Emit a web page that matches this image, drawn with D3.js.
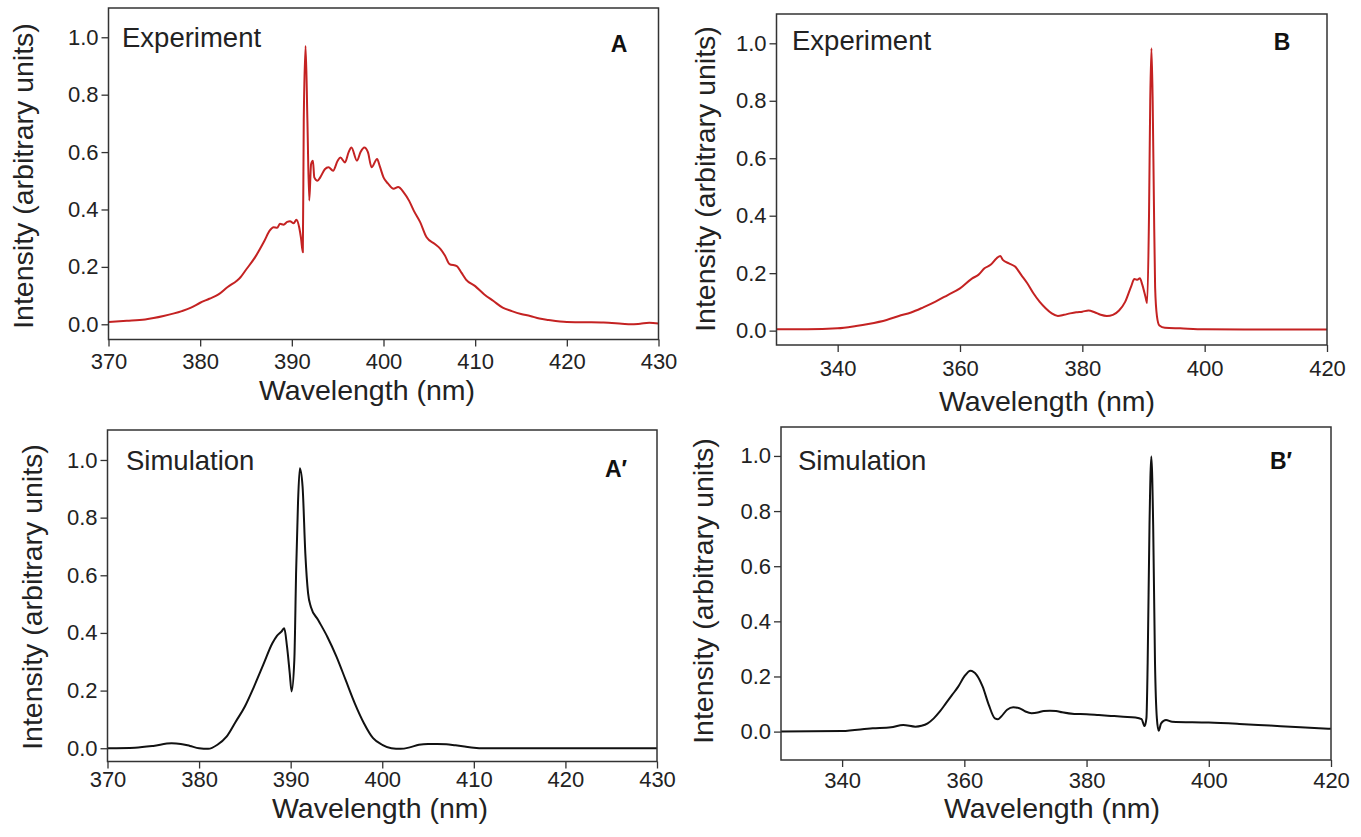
<!DOCTYPE html>
<html>
<head>
<meta charset="utf-8">
<script src="https://cdn.jsdelivr.net/npm/d3@7"></script>
<style>
  body { margin: 0; background: #fff; }
  svg { display: block; font-family: "Liberation Sans", Arial, Helvetica, sans-serif; }
  .axis path { display: none; }
  .axis line { stroke: #333; stroke-width: 1.3; }
  .axis text { font-size: 22px; fill: #222; }
</style>
</head>
<body>
<svg id="chart" width="1361" height="837"></svg>
<script>
// Spectra: [wavelength (nm), intensity]
const expA = [
  [370,0.008],[372,0.012],[374,0.017],[376,0.029],[378,0.046],[379,0.058],[380,0.075],[381,0.089],
  [382,0.104],[383,0.13],[384,0.152],[384.4,0.164],[385,0.19],[386,0.234],[387,0.29],[387.6,0.327],
  [388,0.338],[388.4,0.336],[388.7,0.35],[389.1,0.347],[389.5,0.357],[389.8,0.359],[390.2,0.352],
  [390.5,0.364],[390.8,0.338],[391.0,0.3],[391.2,0.251],[391.3,0.709],[391.5,0.97],[391.7,0.709],
  [391.9,0.431],[392.1,0.558],[392.3,0.57],[392.45,0.512],[392.8,0.5],[393.1,0.512],[393.6,0.54],
  [394.0,0.547],[394.5,0.535],[395.0,0.57],[395.3,0.581],[395.8,0.564],[396.2,0.6],[396.5,0.616],
  [397.1,0.57],[397.5,0.6],[397.9,0.616],[398.3,0.6],[398.7,0.547],[399.3,0.576],[399.6,0.55],
  [400.0,0.512],[400.5,0.49],[401.1,0.472],[401.6,0.478],[402.2,0.46],[402.8,0.43],[403.3,0.396],
  [404.0,0.356],[404.7,0.303],[405.6,0.28],[406.2,0.263],[406.7,0.24],[407.2,0.21],[408,0.203],
  [408.5,0.18],[409,0.156],[410,0.133],[411,0.104],[412,0.081],[413,0.058],[414,0.046],[415,0.036],
  [416,0.029],[417,0.02],[418,0.015],[420,0.008],[422,0.007],[424,0.006],[426,0.002],[427,0.0],
  [428,0.002],[429,0.005],[430,0.003]
];

const expB = [
  [330,0.005],[335,0.005],[340,0.008],[343,0.016],[345,0.023],[348,0.037],[350,0.051],[352,0.063],
  [354,0.081],[356,0.101],[358,0.124],[360,0.147],[362,0.182],[363,0.194],[364,0.217],[365,0.229],
  [366,0.252],[366.6,0.26],[367,0.246],[368,0.234],[369,0.223],[370,0.194],[371,0.165],[372,0.13],
  [373,0.101],[374,0.078],[375,0.06],[376,0.051],[377,0.055],[378,0.06],[379,0.064],[380,0.066],
  [381,0.07],[382,0.064],[383,0.055],[384,0.051],[385,0.055],[386,0.07],[387,0.1],[388,0.155],
  [388.5,0.18],[389.0,0.177],[389.4,0.182],[389.8,0.16],[390.3,0.12],[390.6,0.096],[390.9,0.4],
  [391.1,0.8],[391.3,0.983],[391.5,0.8],[391.7,0.45],[391.9,0.15],[392.2,0.05],[392.6,0.018],
  [393.5,0.01],[396,0.008],[400,0.005],[410,0.004],[420,0.004]
];

const simA = [
  [370,0.0],[373,0.002],[375,0.008],[377,0.017],[378,0.015],[379,0.008],[380,0.0],[381,-0.002],
  [382,0.012],[383,0.04],[384,0.092],[385,0.145],[386,0.214],[387,0.289],[388,0.364],[388.5,0.39],
  [389,0.405],[389.3,0.416],[389.6,0.353],[389.9,0.26],[390.1,0.197],[390.4,0.306],[390.6,0.618],
  [390.8,0.85],[391,0.971],[391.3,0.908],[391.6,0.676],[391.9,0.538],[392.2,0.491],[393,0.445],
  [394,0.387],[395,0.318],[396,0.237],[397,0.156],[398,0.087],[399,0.035],[400,0.012],[401,0.0],
  [402,-0.002],[403,0.003],[404,0.012],[405,0.015],[406,0.015],[407,0.014],[408,0.01],[409,0.006],
  [410,0.002],[411,0.0],[420,0.0],[430,0.0]
];

const simB = [
  [330,0.0],[340,0.002],[345,0.012],[348,0.016],[350,0.024],[352,0.018],[353,0.021],[354,0.03],
  [355,0.048],[356,0.073],[357,0.103],[358,0.133],[359,0.163],[360,0.2],[361,0.221],[362,0.206],
  [363,0.163],[364,0.097],[365,0.048],[365.5,0.045],[366,0.054],[367,0.079],[368,0.088],[369,0.085],
  [370,0.073],[371,0.067],[372,0.069],[373,0.075],[374,0.076],[375,0.075],[376,0.07],[378,0.064],
  [380,0.063],[382,0.06],[384,0.057],[386,0.054],[388,0.051],[389,0.045],[389.5,0.02],[389.8,0.05],
  [390.0,0.25],[390.3,0.75],[390.6,0.998],[390.9,0.75],[391.2,0.25],[391.5,0.05],[391.8,0.003],
  [392.2,0.03],[393,0.042],[394,0.036],[400,0.033],[405,0.028],[410,0.022],[415,0.016],[420,0.01]
];

const yTickValues = [0, 0.2, 0.4, 0.6, 0.8, 1.0];
const xTicksA = [370, 380, 390, 400, 410, 420, 430];
const xTicksB = [340, 360, 380, 400, 420];

// Panel layout (pixel frames and text spots)
const panels = [
  { data: expA, color: "#c42222", note: "Experiment", tag: "A", xDomain: [370, 430], xTicks: xTicksA, yDomain: [-0.053, 1.102],
    left: 108.5, right: 658.5, top: 8, bottom: 339.5, tickPad: 7,
    noteX: 122, noteY: 47, tagX: 619, tagY: 52, xLabX: 367, xLabY: 400, yLabX: 33, yLabY: 176 },
  { data: expB, color: "#c42222", note: "Experiment", tag: "B", xDomain: [330, 420], xTicks: xTicksB, yDomain: [-0.05, 1.102],
    left: 776.5, right: 1327, top: 14, bottom: 345, tickPad: 8,
    noteX: 792, noteY: 50, tagX: 1282, tagY: 50, xLabX: 1047, xLabY: 411, yLabX: 715, yLabY: 179 },
  { data: simA, color: "#111", note: "Simulation", tag: "A\u2032", xDomain: [370, 430], xTicks: xTicksA, yDomain: [-0.046, 1.104],
    left: 107.5, right: 657, top: 430, bottom: 761.5, tickPad: 3,
    noteX: 126, noteY: 470, tagX: 616, tagY: 477, xLabX: 380, xLabY: 818, yLabX: 42, yLabY: 597 },
  { data: simB, color: "#111", note: "Simulation", tag: "B\u2032", xDomain: [330, 420], xTicks: xTicksB, yDomain: [-0.103, 1.105],
    left: 781, right: 1331, top: 427, bottom: 760, tickPad: 5,
    noteX: 798, noteY: 470, tagX: 1281, tagY: 469, xLabX: 1052, xLabY: 818, yLabX: 713, yLabY: 591 }
];

const svg = d3.select("#chart");

panels.forEach(p => {
  const x = d3.scaleLinear().domain(p.xDomain).range([p.left, p.right]);
  const y = d3.scaleLinear().domain(p.yDomain).range([p.bottom, p.top]);
  const g = svg.append("g");

  // y axis
  g.append("g")
    .attr("class", "axis")
    .attr("transform", `translate(${p.left},0)`)
    .call(d3.axisLeft(y).tickValues(yTickValues).tickSize(7).tickPadding(3).tickFormat(d3.format(".1f")));

  // x axis
  g.append("g")
    .attr("class", "axis")
    .attr("transform", `translate(0,${p.bottom})`)
    .call(d3.axisBottom(x).tickValues(p.xTicks).tickSize(7).tickPadding(p.tickPad).tickFormat(d3.format("d")));

  // spectrum
  const line = d3.line()
    .x(d => x(d[0]))
    .y(d => y(d[1]))
    .curve(d3.curveMonotoneX);

  g.append("path")
    .datum(p.data)
    .attr("fill", "none")
    .attr("stroke", p.color)
    .attr("stroke-width", 2)
    .attr("stroke-linejoin", "round")
    .attr("d", line);

  // frame
  g.append("rect")
    .attr("x", p.left)
    .attr("y", p.top)
    .attr("width", p.right - p.left)
    .attr("height", p.bottom - p.top)
    .attr("fill", "none")
    .attr("stroke", "#333")
    .attr("stroke-width", 1.5);

  g.append("text")
    .attr("x", p.noteX)
    .attr("y", p.noteY)
    .attr("font-size", 27.5)
    .attr("fill", "#222")
    .text(p.note);

  g.append("text")
    .attr("x", p.tagX)
    .attr("y", p.tagY)
    .attr("text-anchor", "middle")
    .attr("font-size", 23)
    .attr("font-weight", "bold")
    .attr("fill", "#111")
    .text(p.tag);

  g.append("text")
    .attr("x", p.xLabX)
    .attr("y", p.xLabY)
    .attr("text-anchor", "middle")
    .attr("font-size", 28.5)
    .attr("fill", "#222")
    .text("Wavelength (nm)");

  g.append("text")
    .attr("transform", `translate(${p.yLabX},${p.yLabY}) rotate(-90)`)
    .attr("text-anchor", "middle")
    .attr("font-size", 28.5)
    .attr("fill", "#222")
    .text("Intensity (arbitrary units)");
});
</script>
</body>
</html>
